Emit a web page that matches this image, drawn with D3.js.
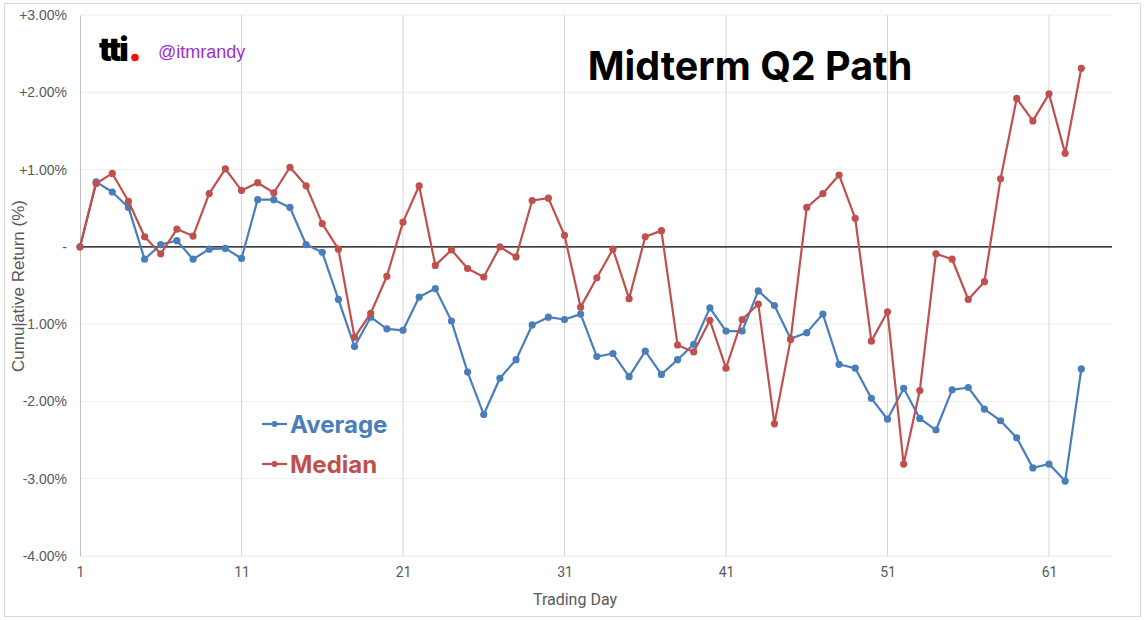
<!DOCTYPE html>
<html>
<head>
<meta charset="utf-8">
<script src="https://cdn.jsdelivr.net/npm/d3@7"></script>
<style>
  body { margin: 0; background: #fff; }
  svg { display: block; font-family: "Liberation Sans", Arial, sans-serif; }
</style>
</head>
<body>
<div id="chart"></div>
<script>
// Chart data
var days = d3.range(1, 64);
var average = [0, 0.84, 0.71, 0.51, -0.16, 0.03, 0.08, -0.16, -0.03, -0.02,
  -0.15, 0.61, 0.61, 0.51, 0.03, -0.07, -0.68, -1.29, -0.91, -1.06,
  -1.08, -0.65, -0.54, -0.96, -1.62, -2.17, -1.70, -1.46, -1.01, -0.91,
  -0.94, -0.87, -1.42, -1.38, -1.68, -1.35, -1.65, -1.46, -1.26, -0.79,
  -1.09, -1.09, -0.57, -0.76, -1.19, -1.11, -0.87, -1.52, -1.57, -1.96,
  -2.23, -1.83, -2.22, -2.37, -1.85, -1.82, -2.10, -2.25, -2.47, -2.86,
  -2.81, -3.03, -1.58];
var median = [0, 0.82, 0.95, 0.59, 0.13, -0.09, 0.23, 0.14, 0.69, 1.01,
  0.73, 0.83, 0.70, 1.03, 0.79, 0.30, -0.03, -1.17, -0.86, -0.38,
  0.32, 0.79, -0.24, -0.04, -0.28, -0.39, 0.00, -0.13, 0.60, 0.63,
  0.15, -0.78, -0.40, -0.03, -0.67, 0.13, 0.21, -1.27, -1.36, -0.95,
  -1.57, -0.94, -0.74, -2.29, -1.20, 0.51, 0.69, 0.93, 0.37, -1.22,
  -0.84, -2.81, -1.86, -0.09, -0.16, -0.68, -0.45, 0.88, 1.92, 1.63,
  1.98, 1.21, 2.31];
var xTicks = [1, 11, 21, 31, 41, 51, 61];
var yTicks = [3, 2, 1, 0, -1, -2, -3, -4];

var W = 1146, H = 620;
var blue = "#4a7ebb", red = "#c0504d";

var svg = d3.select("#chart").append("svg").attr("width", W).attr("height", H);

// outer frame
svg.append("rect").attr("x", 4.5).attr("y", 3.5).attr("width", 1136).attr("height", 613)
  .attr("fill", "#fff").attr("stroke", "#d9d9d9");

var x = d3.scaleLinear().domain([1, 64.9]).range([80, 1112]);
var y = d3.scaleLinear().domain([-4, 3]).range([556, 15]);

// horizontal gridlines
svg.append("g").selectAll("line").data(yTicks).enter().append("line")
  .attr("x1", x(1)).attr("x2", x(64.9))
  .attr("y1", function(d){ return y(d); }).attr("y2", function(d){ return y(d); })
  .attr("stroke", "#ededed");

// vertical gridlines
svg.append("g").selectAll("line").data(xTicks.slice(1)).enter().append("line")
  .attr("x1", function(d){ return x(d); }).attr("x2", function(d){ return x(d); })
  .attr("y1", y(3)).attr("y2", y(-4))
  .attr("stroke", "#d6d6d6");

// y axis
var fmt = function(d) {
  if (d == 0) return "-";
  return (d > 0 ? "+" : "") + d.toFixed(2) + "%";
};
var yAxis = svg.append("g").attr("transform", "translate(80,0)")
  .call(d3.axisLeft(y).tickValues(yTicks).tickFormat(fmt).tickSize(0).tickPadding(13));
yAxis.select(".domain").attr("stroke", "#bfbfbf");
yAxis.selectAll("text").attr("fill", "#595959").style("font-size", "14px");

// x axis
var xAxis = svg.append("g").attr("transform", "translate(0," + y(-4) + ")")
  .call(d3.axisBottom(x).tickValues(xTicks).tickSize(0).tickPadding(11));
xAxis.select(".domain").attr("stroke", "#ededed");
xAxis.selectAll("text").attr("fill", "#595959").style("font-size", "14px")
  .style("font-family", "Roboto, 'Liberation Sans', sans-serif");

// zero line
svg.append("line").attr("x1", x(1)).attr("x2", x(64.9))
  .attr("y1", y(0)).attr("y2", y(0)).attr("stroke", "#000").attr("stroke-width", 1.2);

// axis titles
svg.append("text").attr("x", 575).attr("y", 605).attr("text-anchor", "middle")
  .attr("fill", "#595959").style("font-size", "16px")
  .style("font-family", "Roboto, 'Liberation Sans', sans-serif")
  .text("Trading Day");
svg.append("text").attr("transform", "translate(24,286) rotate(-90)")
  .attr("text-anchor", "middle").attr("fill", "#595959").style("font-size", "17px")
  .text("Cumulative Return (%)");

// series
var drawSeries = function(vals, color) {
  var line = d3.line()
    .x(function(d, i){ return x(days[i]); })
    .y(function(d){ return y(d); });
  svg.append("path").datum(vals).attr("d", line)
    .attr("fill", "none").attr("stroke", color).attr("stroke-width", 2.2)
    .attr("stroke-linejoin", "round");
  svg.append("g").selectAll("circle").data(vals).enter().append("circle")
    .attr("cx", function(d, i){ return x(days[i]); })
    .attr("cy", function(d){ return y(d); })
    .attr("r", 3.6).attr("fill", color);
};
drawSeries(average, blue);
drawSeries(median, red);

// legend
var legend = [["Average", blue], ["Median", red]];
var lg = svg.append("g").selectAll("g").data(legend).enter().append("g")
  .attr("transform", function(d, i){ return "translate(262," + (424 + i * 40) + ")"; });
lg.append("line").attr("x1", 0).attr("x2", 25).attr("stroke", function(d){ return d[1]; })
  .attr("stroke-width", 2.2);
lg.append("circle").attr("cx", 12.5).attr("r", 3).attr("fill", function(d){ return d[1]; });
lg.append("text").attr("x", 28).attr("y", 8.5).attr("fill", function(d){ return d[1]; })
  .style("font-family", "Inter, 'Open Sans', sans-serif").style("font-weight", "bold")
  .style("font-size", "24px").text(function(d){ return d[0]; });

// title
svg.append("text").attr("x", 750).attr("y", 80).attr("text-anchor", "middle")
  .style("font-family", "Inter, 'Open Sans', sans-serif").style("font-weight", "bold")
  .style("font-size", "39.5px").attr("fill", "#000").text("Midterm Q2 Path");

// logo and handle
svg.append("text").attr("x", 99).attr("y", 61)
  .style("font-family", "Inter, sans-serif").style("font-weight", "900")
  .style("font-size", "32px").style("letter-spacing", "-2px").attr("fill", "#000").text("tti");
svg.append("circle").attr("cx", 135).attr("cy", 57.5).attr("r", 3.8).attr("fill", "#ee1111");
svg.append("text").attr("x", 158).attr("y", 58).attr("fill", "#9b2fd4")
  .style("font-size", "18px").text("@itmrandy");
</script>
</body>
</html>
